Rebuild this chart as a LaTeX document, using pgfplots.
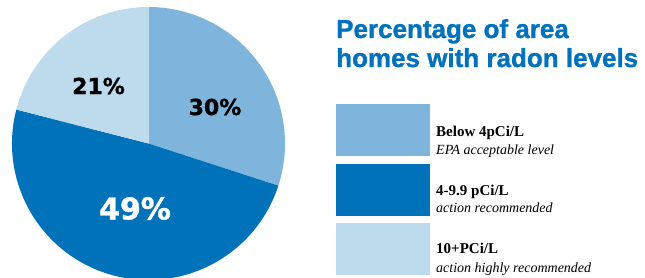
\documentclass[border=0pt]{standalone}
\usepackage{pgfplots}
\pgfplotsset{compat=1.18}
\usepackage{pgfplotstable}
\usepackage{fontspec}
\setmainfont{Liberation Serif}
\newfontfamily\titlefont[BoldFeatures={FakeBold=1.2}]{Liberation Sans}
\newfontfamily\pctfont[BoldFeatures={FakeBold=1.2}]{DejaVu Sans}
\definecolor{c1}{RGB}{127,181,220}
\definecolor{c2}{RGB}{0,114,185}
\definecolor{c3}{RGB}{190,219,237}
\definecolor{tblue}{RGB}{0,114,188}

\pgfplotstableread{
pct lx ly
30 66.5 36.5
49 -13.5 -65
21 -50 57.5
}\piedata

\begin{document}
\begin{tikzpicture}
\useasboundingbox (0,0) rectangle (645pt,-278pt);
\pgfplotstablegetelem{0}{pct}\of\piedata \edef\pa{\pgfplotsretval}
\pgfplotstablegetelem{1}{pct}\of\piedata \edef\pb{\pgfplotsretval}
\pgfplotstablegetelem{2}{pct}\of\piedata \edef\pc{\pgfplotsretval}
\pgfplotstablegetelem{0}{lx}\of\piedata \edef\lxa{\pgfplotsretval}
\pgfplotstablegetelem{1}{lx}\of\piedata \edef\lxb{\pgfplotsretval}
\pgfplotstablegetelem{2}{lx}\of\piedata \edef\lxc{\pgfplotsretval}
\pgfplotstablegetelem{0}{ly}\of\piedata \edef\lya{\pgfplotsretval}
\pgfplotstablegetelem{1}{ly}\of\piedata \edef\lyb{\pgfplotsretval}
\pgfplotstablegetelem{2}{ly}\of\piedata \edef\lyc{\pgfplotsretval}
\pgfmathsetmacro\aA{90}
\pgfmathsetmacro\aB{\aA-3.6*\pa}
\pgfmathsetmacro\aC{\aB-3.6*\pb}
\pgfmathsetmacro\aD{\aC-3.6*\pc}
\def\R{136.5}
\begin{axis}[hide axis, x=1pt, y=1pt, xmin=-137, xmax=137, ymin=-137, ymax=137,
  scale only axis, anchor=center, at={(148.5pt,-143.5pt)}, clip=false]
\fill[c1] (axis cs:0,0) -- (axis cs:{\R*cos(\aA)},{\R*sin(\aA)}) arc[start angle=\aA, end angle=\aB, radius=\R pt] -- cycle;
\fill[c2] (axis cs:0,0) -- (axis cs:{\R*cos(\aB)},{\R*sin(\aB)}) arc[start angle=\aB, end angle=\aC, radius=\R pt] -- cycle;
\fill[c3] (axis cs:0,0) -- (axis cs:{\R*cos(\aC)},{\R*sin(\aC)}) arc[start angle=\aC, end angle=\aD, radius=\R pt] -- cycle;
\node[font=\pctfont\bfseries\fontsize{22}{22}\selectfont, inner sep=0] at (axis cs:\lxa,\lya) {\pa\%};
\node[font=\pctfont\bfseries\fontsize{30}{30}\selectfont, inner sep=0, text=white] at (axis cs:\lxb,\lyb) {\pb\%};
\node[font=\pctfont\bfseries\fontsize{22}{22}\selectfont, inner sep=0] at (axis cs:\lxc,\lyc) {\pc\%};
\end{axis}
% title
\node[anchor=base west, inner sep=0, text=tblue, font=\titlefont\bfseries\fontsize{26}{26}\selectfont] at (336pt,-38pt) {Percentage of area};
\node[anchor=base west, inner sep=0, text=tblue, font=\titlefont\bfseries\fontsize{26}{26}\selectfont] at (336pt,-67pt) {homes with radon levels};
% legend
\fill[c1] (336pt,-104pt) rectangle (430pt,-156pt);
\fill[c2] (336pt,-164pt) rectangle (430pt,-216pt);
\fill[c3] (336pt,-223pt) rectangle (430pt,-275pt);
\node[anchor=base west, inner sep=0, font=\bfseries\fontsize{15}{15}\selectfont] at (436pt,-136pt) {Below 4pCi/L};
\node[anchor=base west, inner sep=0, font=\itshape\fontsize{14}{14}\selectfont] at (436pt,-154pt) {EPA acceptable level};
\node[anchor=base west, inner sep=0, font=\bfseries\fontsize{15}{15}\selectfont] at (436pt,-195pt) {4-9.9 pCi/L};
\node[anchor=base west, inner sep=0, font=\itshape\fontsize{14}{14}\selectfont] at (436pt,-212pt) {action recommended};
\node[anchor=base west, inner sep=0, font=\bfseries\fontsize{15}{15}\selectfont] at (436pt,-253pt) {10+PCi/L};
\node[anchor=base west, inner sep=0, font=\itshape\fontsize{14}{14}\selectfont] at (436pt,-272pt) {action highly recommended};
\end{tikzpicture}
\end{document}
